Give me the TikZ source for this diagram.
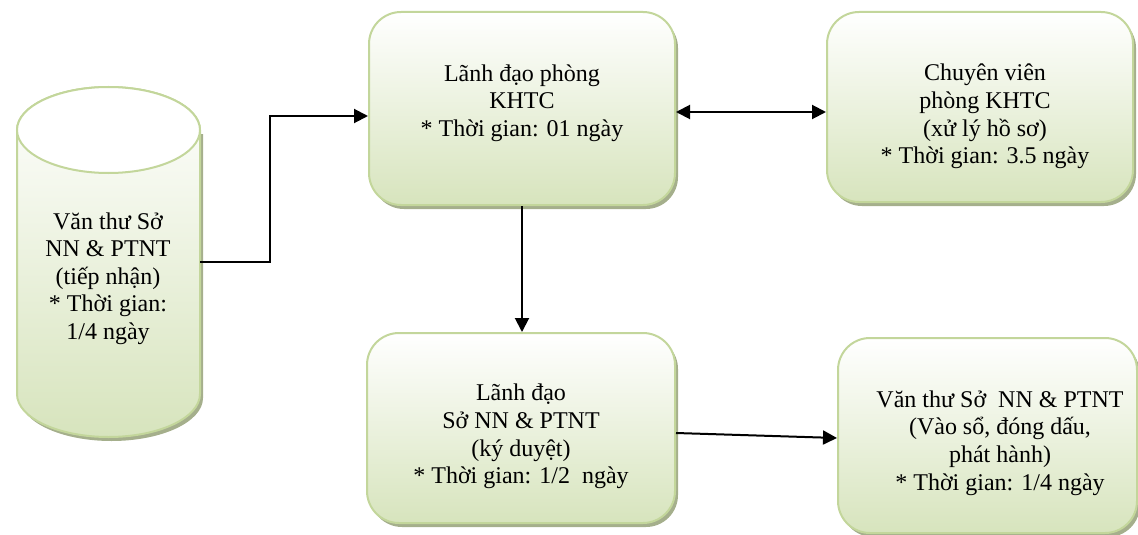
\documentclass[tikz,border=0pt]{standalone}
\usepackage{fontspec}
\setmainfont{Liberation Serif}
\usetikzlibrary{arrows.meta}
\definecolor{boxline}{RGB}{195,214,155}
\definecolor{boxfill}{RGB}{215,228,189}
\definecolor{boxshadow}{RGB}{165,175,140}
\begin{document}
\begin{tikzpicture}[x=1pt,y=-1pt,
  stepbox/.style={rectangle, rounded corners=32pt, draw=boxline, line width=2pt,
    top color=white, bottom color=boxfill, inner sep=0pt,
    preaction={fill=boxshadow, transform canvas={shift={(3,4)}}}},
  txt/.style={align=center, font=\fontsize{24}{27.6}\selectfont, inner sep=0pt},
  arr/.style={line width=2pt, -{Triangle[length=14pt,width=14pt]}},
  arrboth/.style={line width=2pt, {Triangle[length=14pt,width=14pt]}-{Triangle[length=14pt,width=14pt]}}]
\useasboundingbox (0,0) rectangle (1138,535);

% cylinder: shadow, shaded body, white top face
\begin{scope}[shift={(3,4)}]
  \fill[boxshadow] (17,130) -- (17,394) .. controls (17,417.75) and (57.97,437) .. (108.5,437)
    .. controls (159.03,437) and (200,417.75) .. (200,394) -- (200,130) -- cycle;
\end{scope}
\shade[top color=white, bottom color=boxfill, draw=boxline, line width=2pt]
  (17,130) -- (17,394) .. controls (17,417.75) and (57.97,437) .. (108.5,437)
  .. controls (159.03,437) and (200,417.75) .. (200,394) -- (200,130)
  .. controls (200,106.25) and (159.03,87) .. (108.5,87)
  .. controls (57.97,87) and (17,106.25) .. (17,130) -- cycle;
\draw[boxline, line width=2pt, fill=white] (108.5,130) ellipse [x radius=91.5, y radius=43];
\node[minimum width=183pt, minimum height=350pt, inner sep=0pt] (vt) at (108.5,262) {};
\node[txt] (tvt) at (108,278.5) {Văn thư Sở\\NN \& PTNT\\(tiếp nhận)\\* Thời gian:\\1/4 ngày};

% process boxes
\node[stepbox, minimum width=306pt, minimum height=193pt] (A) at (522,108.5) {};
\node[stepbox, minimum width=306pt, minimum height=190pt] (B) at (980,107) {};
\node[stepbox, minimum width=308pt, minimum height=190pt] (C) at (521,428) {};
\node[stepbox, minimum width=299pt, minimum height=195pt] (D) at (987.5,435.5) {};

\node[txt] (tA) at (522,103) {Lãnh đạo phòng\\KHTC\\* Thời gian: 01 ngày};
\node[txt] (tB) at (985,116.5) {Chuyên viên\\phòng KHTC\\(xử lý hồ sơ)\\* Thời gian: 3.5 ngày};
\node[txt] (tC) at (521,436.5) {Lãnh đạo\\Sở NN \& PTNT\\(ký duyệt)\\* Thời gian: 1/2\ \ ngày};
\node[txt] (tD) at (1000,443) {Văn thư Sở\ \ NN \& PTNT\\(Vào sổ, đóng dấu,\\phát hành)\\* Thời gian: 1/4 ngày};

% connectors
\draw[arr] (vt.east) -- (270,262) |- (A.west |- 0,116);
\draw[arrboth] (A.east |- 0,112) -- (B.west |- 0,112);
\draw[arr] (A.south) -- (A.south |- C.north);
\draw[arr] (C.east |- 0,433) -- (D.west |- 0,438);
\end{tikzpicture}
\end{document}
